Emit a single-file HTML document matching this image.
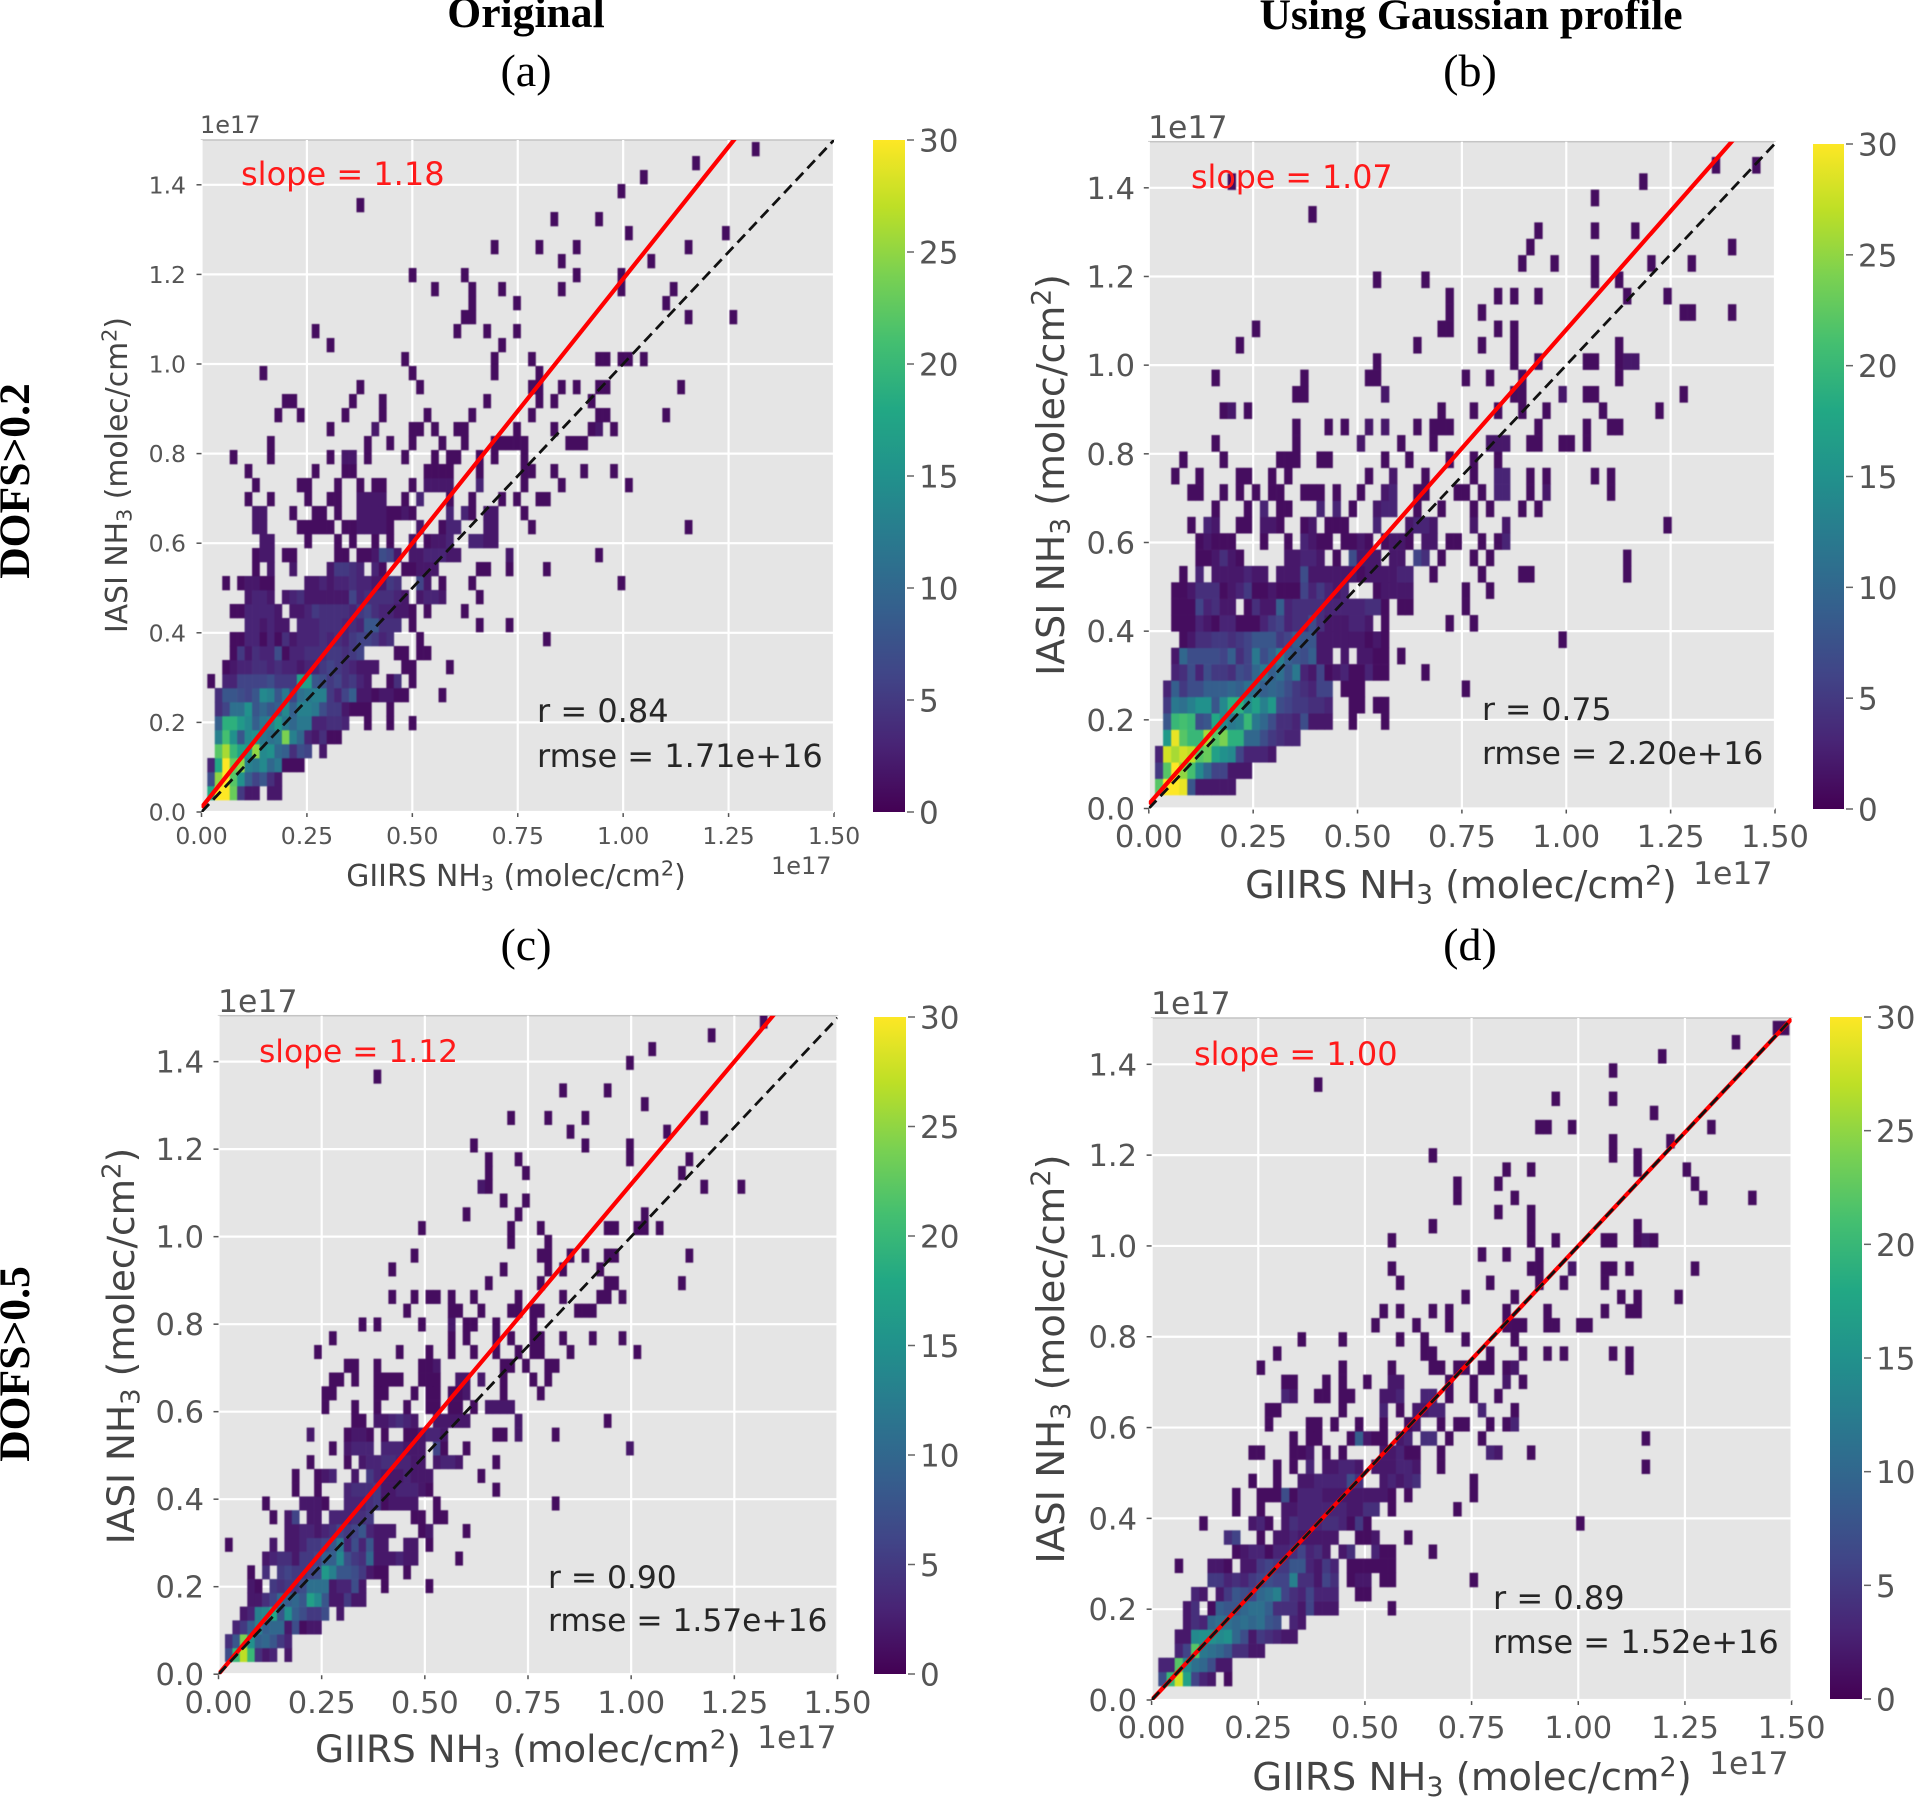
<!DOCTYPE html>
<html lang="en">
<head>
<meta charset="utf-8">
<title>GIIRS vs IASI NH3 comparison</title>
<style>
html,body{margin:0;padding:0;background:#fff;}
body{width:1917px;height:1800px;overflow:hidden;position:relative;}
svg{position:absolute;left:0;top:0;}
.hd{font-family:"Liberation Serif",serif;font-weight:bold;font-size:43.6px;fill:#000;text-anchor:middle;}
.sub{font-family:"Liberation Serif",serif;font-size:46px;fill:#000;text-anchor:middle;}
.mpl{font-family:"DejaVu Sans",sans-serif;}
</style>
</head>
<body>
<svg id="fig" width="1917" height="1800" viewBox="0 0 1917 1800" xmlns="http://www.w3.org/2000/svg">
  <defs>
    <linearGradient id="viridis-grad" x1="0" y1="1" x2="0" y2="0">
      <stop offset="0" stop-color="#440154"/><stop offset="0.1" stop-color="#482475"/><stop offset="0.2" stop-color="#414487"/><stop offset="0.3" stop-color="#355f8d"/><stop offset="0.4" stop-color="#2a788e"/><stop offset="0.5" stop-color="#21918c"/><stop offset="0.6" stop-color="#22a884"/><stop offset="0.7" stop-color="#44bf70"/><stop offset="0.8" stop-color="#7ad151"/><stop offset="0.9" stop-color="#bddf26"/><stop offset="1" stop-color="#fde725"/>
    </linearGradient>
  </defs>
  <text class="hd" x="526" y="27">Original</text>
  <text class="hd" x="1471" y="29">Using Gaussian profile</text>
  <text class="sub" x="526" y="86">(a)</text>
  <text class="sub" x="1470" y="86">(b)</text>
  <text class="sub" x="526" y="960">(c)</text>
  <text class="sub" x="1470" y="960">(d)</text>
  <text class="hd" transform="translate(29,481) rotate(-90)">DOFS&gt;0.2</text>
  <text class="hd" transform="translate(29,1364) rotate(-90)">DOFS&gt;0.5</text>
</svg>
<script>
// Shared tick labels (values in units of 1e17)
const xTickValues = [0, 0.25, 0.5, 0.75, 1.0, 1.25, 1.5];
const xTickLabels = ["0.00", "0.25", "0.50", "0.75", "1.00", "1.25", "1.50"];
const yTickValues = [0, 0.2, 0.4, 0.6, 0.8, 1.0, 1.2, 1.4];
const yTickLabels = ["0.0", "0.2", "0.4", "0.6", "0.8", "1.0", "1.2", "1.4"];
const colorbarTicks = [0, 5, 10, 15, 20, 25, 30];
const viridisStops = ["#440154","#482475","#414487","#355f8d","#2a788e","#21918c","#22a884","#44bf70","#7ad151","#bddf26","#fde725"];

// Fit lines: slope, intercept
const slopes = [1.18, 1.07, 1.12, 1.00];
const intercepts = [0.01, 0.01, 0.0, 0.0];
const slopeLabels = ["slope = 1.18", "slope = 1.07", "slope = 1.12", "slope = 1.00"];
const rLabels = ["r = 0.84", "r = 0.75", "r = 0.90", "r = 0.89"];
const rmseLabels = ["rmse = 1.71e+16", "rmse = 2.20e+16", "rmse = 1.57e+16", "rmse = 1.52e+16"];

// 2D histogram counts. One entry per y bin (bottom to top); each entry holds runs [firstXBin, count, count, ...]
const countsA = [
[[0,18,30,30,23,5,2,2],[8,2,2]],
[[0,7,25,30,22,15,9,6,8,4,2]],
[[0,3,18,30,23,25,13,12,14,10,12,1,1,1]],
[[1,22,26,20,17,16,25,14,15,10,9,4,7,6],[15,2]],
[[1,13,21,15,8,14,15,12,11,12,24,13,10,3,2,4,1,1]],
[[1,9,19,19,16,14,9,12,13,16,12,10,12,12,3,3,4,4,3],[21,1],[24,1],[27,1]],
[[1,4,6,11,11,15,8,10,8,9,14,9,13,13,12,7,5,5,2,1,1,1],[24,1]],
[[1,4,8,8,7,6,8,14,13,8,12,6,11,12,13,13,5,3,6,9,2,2,1,2,2,1,1],[31,1]],
[[0,1],[2,3,3,6,6,6,6,7,5,5,5,17,17,8,7,5,6,4,5,3,2],[24,1,4],[27,1]],
[[2,1,2,3,3,4,4,3,4,3,3,2,3,3,5,6,5,4,3,2,2,2],[26,1,1],[32,1]],
[[3,1,5,2,4,3,3,7,1],[11,3,3,4,4,4,5,5,4,5,6],[25,1,1],[28,1,1]],
[[3,1,1,3,3,1,3,1,4,2,3,3,3,4,3,4,3,5,6,6,5,3,4],[28,1],[45,1]],
[[5,3,3,2,3,2,2],[12,3,3,3,4,4,4,3,4,3,8,8,4,4,4],[27,1],[36,1],[40,1]],
[[3,1,1,3,3,3,3,2],[11,2,2,3,5,4,4,4,4,3,5,6,4,3,3,2,2,1],[29,1],[34,1]],
[[5,2,3,3,2],[10,2,3,4,2,2,2,2,2,2,6,3,4,4,4,4,3,2],[28,2,3,3,2],[36,1]],
[[2,1],[4,1,2,2,1,1],[13,2,2,3,2,3,3,4,3,3,2,2,5,4],[28,6,2],[31,1],[35,1],[55,1]],
[[6,1],[8,2],[11,2],[16,2,5,5,4,3],[22,3,1],[26,1,1,2,2,2],[36,1,1],[40,1],[45,1]],
[[6,1,2,2],[10,1,1],[17,1,1],[20,1,1,2],[23,7,6,2],[27,2,2,3,3,3,2,2],[40,2],[52,1]],
[[7,2,2],[13,1],[17,1],[19,1],[22,1],[24,1],[27,2],[29,1],[30,2,2,3],[35,3,3,2,2]],
[[6,2,2],[12,1,1,1,1,1],[18,1,1,2,2,2,2,1],[28,2],[31,1,3,3],[37,2,2],[43,1],[64,1]],
[[6,2,2],[11,1],[14,1,1],[17,1],[20,2,2,2,2,1,1,2,1],[32,3],[34,3,1],[37,2,2],[42,1]],
[[5,1],[8,1],[13,1],[16,1,1],[20,2,2,2,2],[26,1],[28,3],[32,1],[35,1],[39,1],[41,1],[44,1,1]],
[[6,1],[12,1,1],[17,1],[20,1],[22,1,1],[27,1],[29,2,2,2,2],[36,3],[42,1],[47,1],[56,1]],
[[5,1],[14,1],[18,1,1],[29,1,1,1,1],[36,1],[42,1,1],[46,1],[50,1],[54,1]],
[[3,1],[8,1],[16,1],[18,2,2],[21,1],[26,1],[30,1],[32,1,1],[36,1],[38,1],[42,1]],
[[8,1],[21,1],[24,1],[27,1],[31,1],[34,1],[38,1,1,1,1,1],[48,1,1,1]],
[[16,1],[22,2],[27,1,1],[30,1],[33,1,1],[41,1],[46,1],[51,1,2],[54,1]],
[[9,1],[12,1],[18,1],[23,1],[29,1],[35,1],[43,1],[52,1,1],[61,1]],
[[10,1,1],[19,1],[23,1],[37,1],[44,1],[46,1],[51,1]],
[[20,1],[28,1],[43,1,1],[47,1],[49,1],[52,1,1],[63,1]],
[[7,1],[27,1],[38,1],[44,1]],
[[26,1],[38,1],[43,1],[52,1,1],[55,1,1],[58,1]],
[[16,1],[39,1]],
[[14,1],[33,1],[37,1],[41,1]],
[[34,1,1],[64,1],[70,1]],
[[35,1],[41,1],[61,1]],
[[30,1],[35,1],[39,1],[47,1],[55,1],[62,1]],
[[27,1],[34,1],[49,1],[55,1]],
[[47,1],[59,1]],
[[38,1],[44,1],[49,1],[64,1]],
[[56,1],[69,1]],
[[46,1],[52,1]],
[[20,1]],
[[55,1]],
[[58,1]],
[[65,1]],
[[73,1]]
];
const countsB = [
[[0,22,30,30,29,8,2,2,2,2,2]],
[[0,5,22,30,25,21,14,10,6,6,2,2,2]],
[[0,3,28,26,28,27,22,23,17,15,14,6,3,3,3,2]],
[[1,16,29,22,20,20,26,22,24,19,19,10,10,7,5,4,3,3]],
[[1,8,20,21,20,7,8,18,14,12,13,20,12,10,7,4,4,3,7,2,2,2],[24,1],[28,1]],
[[1,5,12,11,13,15,15,8,14,19,19,14,17,13,16,7,6,5,5,4,4,3],[24,1,1],[27,1,1]],
[[1,3,9,5,7,7,9,9,9,10,9,11,11,9,10,9,7,5,4,3,6,6],[23,1,1,1],[38,1]],
[[2,3,4,7,3,7,5,5,4,7,6,10,12,9,11,8,12,3,2,6,1,2,3,1,1,3,1,1],[33,1]],
[[2,2,10,7,7,7,7,6,9,4,6,12,7,9,13,9,8,7,9,2,2],[23,2],[25,2,2,1,1],[30,1]],
[[3,1,2,4,4,5,5,4,5,6,8,8,8,5,6,9,8,8,2,2,2,2,2,2,1,2],[28,1],[50,1]],
[[2,1,1,1,3,2,1,3,3,1,1,1,3,5,6,3,4,4,7,4,2,2,2,3,3,2],[28,1],[36,1],[39,1]],
[[2,1,1,1,6,3,4,2,2],[11,1,4,2,2,9,3,4,4,4,4,3,3,3,3,3,4,4],[28,1],[30,1,1],[38,1]],
[[2,1,1,2,4,4,4,1,2,3,5,1,1,2,1,1,1,6,3,5,3,2,3],[27,1,2,2,2,2],[38,1],[41,1]],
[[3,1],[5,3],[7,2,2,2,2,3,2,2],[15,2,2,2,7,2,2,2,2,2,2],[25,1,2,2,2,2,3,3],[34,1],[40,1],[45,1,1],[58,1]],
[[5,1,1,2,4,2],[10,1],[16,2,2,3,3,2],[22,1],[24,7,2,2,2],[29,2,2],[32,6,4],[35,1],[39,1],[41,1],[58,1]],
[[5,1,2,1,1,1],[13,1],[16,1],[18,3,2,1,1],[23,1,1,2,1],[28,1,2,2,1],[33,2,2],[36,1,1],[40,1],[42,1,3]],
[[4,1],[6,3,2],[10,1,1],[13,2,2,1],[18,1,2],[21,1,1,1],[27,3],[31,2,3,3,2],[39,2],[43,2],[63,1]],
[[7,1],[11,1],[13,3],[15,1,1],[20,3],[22,3],[24,1],[27,2,3,3],[32,1],[35,1],[39,1],[41,1],[45,1],[47,1]],
[[4,1,1],[8,1],[10,1],[12,1],[14,1,1],[18,1,1,1],[22,1],[25,1],[28,2,3],[32,1,1],[37,1,1],[40,1],[42,3,3],[46,1],[48,2],[56,1]],
[[2,1],[5,1],[10,1,1],[14,1],[16,1],[26,1],[29,2],[33,1],[39,1],[42,3,3],[46,1],[48,1],[54,1],[56,1]],
[[3,1],[8,1],[15,1,1,1],[20,1,1],[28,1],[31,1],[36,1],[39,1],[42,1]],
[[7,1],[17,1],[25,2],[30,1],[34,1],[41,2,2,2],[46,1,1],[50,1,1],[53,1]],
[[17,1],[21,1],[23,1],[26,2],[28,2],[32,1],[34,1,1,1],[47,1],[53,1],[56,1,1]],
[[8,1,2],[11,1],[35,1],[39,1],[42,1],[45,1],[48,1],[55,1],[62,1]],
[[17,1,1],[28,2],[44,1,1],[50,2],[53,1,1],[65,1]],
[[7,1],[18,1],[26,1,1],[38,1],[41,1],[45,1],[57,1]],
[[27,1],[44,1],[47,1],[53,1,1],[57,1,2,2]],
[[10,1],[32,1],[40,1],[44,1],[57,1]],
[[12,1],[35,1,1],[42,1],[44,1]],
[[36,1],[40,1],[65,1,1],[71,1]],
[[36,1],[42,1],[44,1],[47,1],[58,1],[63,1]],
[[27,1],[33,1],[54,1],[57,1]],
[[45,1],[49,1],[54,1],[61,1],[66,1]],
[[46,1],[71,1]],
[[47,1],[54,1],[59,1]],
[[19,1]],
[[54,1]],
[[9,1],[60,1]],
[[69,1],[74,1]]
];
const countsC = [
[[0,7,20,27,20,4,2,3],[8,2]],
[[0,4,8,24,15,9,10,8,5,3]],
[[1,3,5,9,13,9,10,10,2,7,1,2,2]],
[[2,2,3,13,14,18,8,15,9,7,5,5,7],[15,2]],
[[3,2,2,4,6,10,9,10,8,17,14,8,2,2,5,2,2]],
[[3,2,1],[6,5,4,5,5,7,11,11,11,2,3,3,7,2],[21,1],[27,1]],
[[3,1],[5,4],[7,5,6,5,5,6,7,16,13,8,8,7,5,2,1,1],[24,1]],
[[5,2,3,4,4,2,5,5,6,9,9,14,7,5,4,10,2,2,2,3,2,2],[31,1]],
[[0,1],[6,2],[8,2,2,3,5,5,6,8,12,3,7,3,8,2,2],[24,2,2],[27,1]],
[[8,2,2,3,3,2,3,4,6,5,6,8,3,2,2,2],[26,1,2],[32,1]],
[[6,1],[8,2,6],[11,2,2],[14,3,3,3,4,4,5],[25,1,1],[28,1,1]],
[[5,1],[10,2,2,2,1],[16,3,3,3,4,5],[21,1,2,2,2,2],[28,1],[44,1]],
[[9,1],[12,1],[16,3,4,4,4,5],[21,2,2,3,3,3,2],[27,1],[36,1]],
[[9,1],[12,1,2,3],[17,2],[19,5,3,2,2,2,3,2,2,2],[34,1]],
[[11,1],[16,1],[18,2,3,3,4,4,3,3,2,2],[28,2,3,3,2],[36,1]],
[[14,1],[16,2,3,3,3],[21,3,3,3,2,2,2],[28,6,1],[32,1],[54,2]],
[[11,2],[16,1,2,2,1],[21,1],[24,1,1,2,3,3,2],[36,1,1],[39,2],[44,1]],
[[17,1,1],[20,2,2,3,4,3,2],[28,2,2,2,2,2],[39,2],[51,1]],
[[13,1],[17,1],[20,1],[24,1],[27,1,1],[30,1,1],[33,1],[35,2,2,2,2]],
[[13,1,1],[20,1,1],[25,1],[27,1,1],[30,1,1,2],[37,1],[42,1]],
[[14,1,1],[17,1],[20,1,1,1,1],[26,1,1,1],[31,2,2],[34,2],[37,1],[41,1],[43,1]],
[[16,1,1],[20,1],[26,1,1,2],[37,1,1],[40,1],[43,1,1]],
[[12,1],[23,1],[27,1],[30,1],[33,1],[36,1],[39,1],[41,1,1],[46,1],[55,1]],
[[14,1],[30,1],[32,1],[36,1],[38,1],[41,1,1],[45,1],[49,1],[53,1]],
[[18,1],[20,1],[26,1],[30,2],[32,1,1],[36,1],[41,1]],
[[24,1],[30,1,1],[34,1],[38,1,1],[41,1,1],[47,1,1,1]],
[[22,1],[25,1],[27,1,1],[30,1],[33,1],[39,1],[45,1],[50,1,1],[53,1]],
[[35,1],[42,1],[51,1,1],[61,1]],
[[22,1],[37,1],[43,1],[45,1],[50,1]],
[[25,1],[42,1,1],[46,1],[48,1],[51,1,1],[62,1]],
[[38,1],[43,1]],
[[26,1],[38,1],[42,1],[51,1,1],[55,1,1],[58,1]],
[[32,1],[39,1],[56,1]],
[[37,1],[40,1]],
[[34,2,1],[64,1],[69,1]],
[[35,1],[40,1],[61,1]],
[[35,1],[39,1],[54,1],[62,1]],
[[33,1],[48,1],[54,1]],
[[46,1],[59,1]],
[[38,1],[43,1],[48,1],[64,1]],
[[56,1]],
[[45,1],[51,1]],
[[20,1]],
[[54,1]],
[[57,1]],
[[65,1]],
[[72,1]]
];
const countsD = [
[[0,7,20,28,17,6,3,2],[8,1]],
[[0,3,3,22,14,11,10,7,2,2]],
[[2,3,6,22,12,11,10,8,4,4,2,2]],
[[2,2,2,14,15,15,14,15,10,7,2,5,4,3,2,2]],
[[3,2,4,3,10,11,11,10,11,10,11,8,7],[16,3,2]],
[[3,2,4],[6,1,9,8,8,10,11,11,9,4,4,4,2,6,2,2,2],[28,1]],
[[4,3,2],[7,2,5,8,7,6,10,11,13,6,4,3,6,3,3,3],[24,1,1]],
[[6,5,5,3,4,3,5,6,7,6,6,13,4,4,2,6,4],[23,1,2,2],[27,1,1],[38,1]],
[[2,1],[6,2,2,1],[10,2,2,5,6,5,5,8,8,3,2,5,3],[23,1,1,1,1,1,1]],
[[9,1,2,3,3,1,3,3,4,6,3,4,2],[22,2,4],[26,3,1,1],[33,1]],
[[8,4,6],[12,1],[14,2,2,3,2,2,2,2,2],[24,1,1,2],[30,1]],
[[5,1],[11,2,3,1],[15,2,4,3,3,3,4,4,3],[23,1,5,1],[51,1]],
[[9,1],[12,1],[15,2,2,3,3,3,3,3,3,2,2,4,4],[28,1],[36,1]],
[[9,1],[12,1,1,1,7,1,3,3,3,2,2,2,2,2,2,2,2],[28,1],[30,1],[38,1]],
[[11,1],[14,1],[17,2,2,3,3,3,3,7,4],[27,2,3,2,3,4],[38,1]],
[[14,1],[16,1],[18,3],[20,2,2,3,3,2],[26,2,2,2,3,3,2],[34,1],[59,1]],
[[11,1,1],[16,1,1,2],[20,1],[22,1],[27,2,2,3,1,1],[34,1],[40,3,2],[45,1]],
[[16,1],[18,1,1],[23,1,9,2,1,1],[29,2,3],[32,4,4],[35,1],[39,1],[59,1]],
[[13,1],[18,1,1],[21,1],[24,1],[27,1],[30,1,2],[34,1],[36,1,1],[40,1],[42,1,3]],
[[13,1,1],[22,1],[27,3],[29,1],[31,2,2,3,3],[39,3],[43,1]],
[[15,3,2],[19,1,1],[22,1,1],[27,2,2,3],[32,3,3],[35,1],[38,1],[41,1]],
[[15,1,1],[20,1],[22,1],[25,1],[28,2,2],[35,1],[38,1],[42,2],[44,1]],
[[12,1],[22,1],[28,1],[33,1,1],[36,1,1],[39,1,1],[42,1,2],[57,1]],
[[14,1],[32,1],[33,1],[40,1],[44,1],[47,1],[49,1],[55,1],[57,1]],
[[17,1],[22,1],[29,1],[32,1],[37,1],[43,1]],
[[26,1],[31,1],[35,1],[42,1,1,1],[47,1,1],[51,1,1]],
[[27,1],[29,1],[33,1],[35,1],[42,1],[47,1],[54,1],[57,1,1]],
[[37,1],[43,1],[56,1],[58,1],[63,1]],
[[29,1],[40,1],[46,1],[49,1],[54,1]],
[[28,1],[45,1,1],[50,2],[54,1,1],[57,1],[65,1]],
[[39,1],[42,1],[46,1]],
[[28,1],[45,1],[48,1],[54,1,1],[58,1,2,1]],
[[33,1],[45,1],[58,1]],
[[41,1],[45,1]],
[[36,1],[43,1],[66,1],[72,1]],
[[36,1],[41,1],[65,1]],
[[42,1],[45,1],[58,1],[64,1]],
[[33,1],[55,1],[58,1]],
[[55,1],[62,1]],
[[46,1,1],[50,1],[67,1]],
[[60,1]],
[[48,1],[55,1]],
[[19,1]],
[[55,1]],
[[61,1]],
[[70,1]],
[[75,1,1]]
];

const svg = document.getElementById('fig');
const NS = 'http://www.w3.org/2000/svg';

function make(tag, attrs, parent) {
  const el = document.createElementNS(NS, tag);
  for (const k in attrs) el.setAttribute(k, attrs[k]);
  (parent || svg).appendChild(el);
  return el;
}
function viridis(count) {
  const t = Math.max(0, Math.min(1, count / 30)) * (viridisStops.length - 1);
  const i = Math.min(viridisStops.length - 2, Math.floor(t));
  const f = t - i;
  const a = viridisStops[i], b = viridisStops[i + 1];
  const ch = s => parseInt(a.substr(s, 2), 16) + f * (parseInt(b.substr(s, 2), 16) - parseInt(a.substr(s, 2), 16));
  return 'rgb(' + Math.round(ch(1)) + ',' + Math.round(ch(3)) + ',' + Math.round(ch(5)) + ')';
}

function drawPanel(id, counts, index, L) {
  const x = v => L.left + v / 1.5 * (L.right - L.left);
  const y = v => L.bottom - v / L.yMax * (L.bottom - L.top);
  const g = make('g', {});
  
  

  const clipId = 'clip-' + id;
  const clip = make('clipPath', {id: clipId}, g);
  make('rect', {x: L.left, y: L.top, width: L.right - L.left, height: L.bottom - L.top}, clip);

  const bg = make('rect', {x: L.left, y: L.top, width: L.right - L.left, height: L.bottom - L.top, fill: '#e5e5e5', stroke: '#c4c4c4', 'stroke-width': 1.5}, g);
  
  

  // grid and ticks
  xTickValues.forEach((v, k) => {
    const gl = make('line', {x1: x(v), x2: x(v), y1: L.top, y2: L.bottom, stroke: '#fff', 'stroke-width': 2.2}, g);
    
    
    const tk = make('line', {x1: x(v), x2: x(v), y1: L.bottom, y2: L.bottom + 5, stroke: '#555', 'stroke-width': 1.5}, g);
    
    
    const tl = make('text', {x: x(v), y: L.xTickY, 'text-anchor': 'middle', 'font-size': L.tick, fill: '#555', class: 'mpl'}, g);
    
    
    tl.textContent = xTickLabels[k];
  });
  yTickValues.forEach((v, k) => {
    const gl = make('line', {x1: L.left, x2: L.right, y1: y(v), y2: y(v), stroke: '#fff', 'stroke-width': 2.2}, g);
    
    
    const tk = make('line', {x1: L.left - 5, x2: L.left, y1: y(v), y2: y(v), stroke: '#555', 'stroke-width': 1.5}, g);
    
    
    const tl = make('text', {x: L.yTickX, y: y(v) + L.tick * 0.36, 'text-anchor': 'end', 'font-size': L.tick, fill: '#555', class: 'mpl'}, g);
    
    
    tl.textContent = yTickLabels[k];
  });

  // heatmap cells
  const cells = make('g', {'clip-path': 'url(#' + clipId + ')', style: 'filter:blur(0.5px)'}, g);
  
  
  counts.forEach((row, j) => {
    row.forEach(run => {
      for (let n = 1; n < run.length; n++) {
        const i = run[0] + n - 1;
        const x0 = x(L.x0 + i * L.dx), x1 = x(L.x0 + (i + 1) * L.dx);
        const y1 = y(L.y0 + j * L.dy), y0 = y(L.y0 + (j + 1) * L.dy);
        const c = make('rect', {x: x0, y: y0, width: x1 - x0 + 0.3, height: y1 - y0 + 0.3, fill: viridis(run[n])}, cells);
        
        
      }
    });
  });

  // lines
  const lines = make('g', {'clip-path': 'url(#' + clipId + ')'}, g);
  
  
  const fit = make('line', {x1: x(0), y1: y(intercepts[index]), x2: x(1.5), y2: y(intercepts[index] + 1.5 * slopes[index]), stroke: '#ff0000', 'stroke-width': 4.2}, lines);
  
  
  const one = make('line', {x1: x(0), y1: y(0), x2: x(1.5), y2: y(1.5), stroke: '#111', 'stroke-width': 2.8, 'stroke-dasharray': '11 6'}, lines);
  
  

  // annotations
  const s = make('text', {x: L.slopeX, y: L.slopeY, 'font-size': L.slopeSize, fill: '#ff1a1a', class: 'mpl'}, g);
  
  
  s.textContent = slopeLabels[index];
  const r = make('text', {x: L.statX, y: L.rY, 'font-size': L.statSize, fill: '#262626', class: 'mpl'}, g);
  
  
  r.textContent = rLabels[index];
  const rm = make('text', {x: L.statX, y: L.rmseY, 'font-size': L.statSize, fill: '#262626', class: 'mpl'}, g);
  
  
  rm.textContent = rmseLabels[index];

  // offset labels
  const o1 = make('text', {x: L.offTopX, y: L.offTopY, 'font-size': L.offSize, fill: '#555', class: 'mpl'}, g);
  
  
  o1.textContent = '1e17';
  const o2 = make('text', {x: L.offBotX, y: L.offBotY, 'font-size': L.offSize, fill: '#555', class: 'mpl'}, g);
  
  
  o2.textContent = '1e17';

  // axis titles
  const unit = L.label;
  const dsub = unit * 0.15, dsup = unit * 0.36;
  const small = unit * 0.7;
  const titleBody = 'NH<tspan dy="' + dsub + '" font-size="' + small + '">3</tspan><tspan dy="' + (-dsub) + '"> (molec/cm</tspan><tspan dy="' + (-dsup) + '" font-size="' + small + '">2</tspan><tspan dy="' + dsup + '">)</tspan>';
  const xt = make('text', {x: L.xLabelX, y: L.xLabelY, 'text-anchor': 'middle', 'font-size': unit, fill: '#444', class: 'mpl'}, g);
  
  
  xt.innerHTML = 'GIIRS ' + titleBody;
  const yt = make('text', {transform: 'translate(' + L.yLabelX + ',' + L.yLabelY + ') rotate(-90)', 'text-anchor': 'middle', 'font-size': unit, fill: '#444', class: 'mpl'}, g);
  
  
  yt.innerHTML = 'IASI ' + titleBody;

  // colorbar
  const cb = make('g', {}, g);
  
  
  make('rect', {x: L.cbLeft, y: L.cbTop, width: L.cbRight - L.cbLeft, height: L.cbBottom - L.cbTop, fill: 'url(#viridis-grad)'}, cb);
  colorbarTicks.forEach(v => {
    const cy = L.cbBottom - v / 30 * (L.cbBottom - L.cbTop);
    const tk = make('line', {x1: L.cbRight + 2, x2: L.cbRight + 9, y1: cy, y2: cy, stroke: '#666', 'stroke-width': 1.5}, cb);
    
    
    const tl = make('text', {x: L.cbRight + 14, y: cy + 11.5, 'font-size': 31, fill: '#555', class: 'mpl'}, cb);
    
    
    tl.textContent = String(v);
  });
}

drawPanel('a', countsA, 0, {left:201.5,right:834,top:140,bottom:812,yMax:1.5,x0:0.0138,dx:0.01769,y0:0.0268,dy:0.03125,tick:23.5,label:29.8,offSize:24,slopeSize:32,statSize:32,xTickY:844,yTickX:186,slopeX:241,slopeY:185,statX:537,rY:722,rmseY:767,offTopX:200,offTopY:133,offBotX:771,offBotY:874,xLabelX:516,xLabelY:886,yLabelX:127,yLabelY:475,cbLeft:873,cbRight:905,cbTop:140,cbBottom:812});
drawPanel('b', countsB, 1, {left:1148.8,right:1775,top:141.7,bottom:808.5,yMax:1.504,x0:0.0149,dx:0.01933,y0:0.0305,dy:0.0369,tick:30.5,label:37.9,offSize:31.5,slopeSize:31.7,statSize:31.5,xTickY:847,yTickX:1135,slopeX:1191,slopeY:188,statX:1482,rY:720,rmseY:764,offTopX:1148,offTopY:138,offBotX:1693,offBotY:884,xLabelX:1461,xLabelY:898,yLabelX:1064,yLabelY:475,cbLeft:1813,cbRight:1844,cbTop:144,cbBottom:809});
drawPanel('c', countsC, 2, {left:218.5,right:837.5,top:1015.7,bottom:1674.2,yMax:1.505,x0:0.0157,dx:0.018,y0:0.0286,dy:0.03147,tick:30.5,label:37.4,offSize:31.5,slopeSize:31.3,statSize:31.3,xTickY:1713,yTickX:204,slopeX:259,slopeY:1062,statX:548,rY:1588,rmseY:1631,offTopX:218,offTopY:1012,offBotX:757,offBotY:1748,xLabelX:528,xLabelY:1762,yLabelX:134,yLabelY:1346,cbLeft:874,cbRight:906,cbTop:1017,cbBottom:1674});
drawPanel('d', countsD, 3, {left:1151.6,right:1791.6,top:1018,bottom:1700,yMax:1.502,x0:0.0157,dx:0.0192,y0:0.0308,dy:0.03117,tick:30.5,label:38.6,offSize:31.5,slopeSize:32,statSize:32,xTickY:1738,yTickX:1137,slopeX:1194,slopeY:1065,statX:1493,rY:1609,rmseY:1653,offTopX:1151,offTopY:1014,offBotX:1709,offBotY:1774,xLabelX:1472,xLabelY:1790,yLabelX:1064,yLabelY:1359,cbLeft:1830,cbRight:1862,cbTop:1017,cbBottom:1699});
</script>
</body>
</html>
